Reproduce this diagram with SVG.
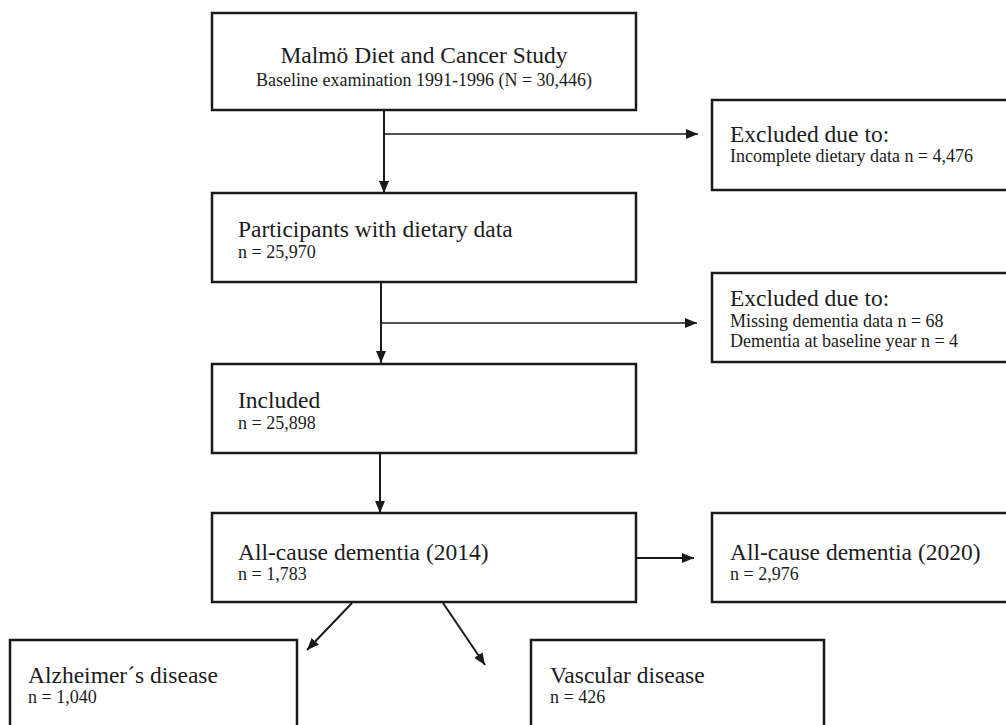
<svg xmlns="http://www.w3.org/2000/svg" width="1006" height="725" viewBox="0 0 1006 725">
  <defs>
    <marker id="arrow" markerUnits="userSpaceOnUse" markerWidth="12" markerHeight="10" refX="12" refY="5" orient="auto">
      <path d="M0,0 L12,5 L0,10 z" fill="#1a1a1a"/>
    </marker>
    <style>
      .box { fill: #ffffff; stroke: #1a1a1a; stroke-width: 2.5; }
      .t1 { font-family: "Liberation Serif", "Times New Roman", serif; font-size: 23.5px; fill: #1c1c1c; }
      .t2 { font-family: "Liberation Serif", "Times New Roman", serif; font-size: 18px; fill: #1c1c1c; }
      .main { stroke: #1a1a1a; stroke-width: 2; fill: none; marker-end: url(#arrow); }
      .branch { stroke: #1a1a1a; stroke-width: 1.4; fill: none; marker-end: url(#arrow); }
    </style>
  </defs>
  <rect width="1006" height="725" fill="#ffffff"/>

  <g id="connectors">
    <line class="main" x1="384" y1="110" x2="384" y2="193"/>
    <line class="branch" x1="384" y1="134" x2="698" y2="134"/>
    <line class="main" x1="381" y1="282" x2="381" y2="363"/>
    <line class="branch" x1="381" y1="323" x2="697" y2="323"/>
    <line class="main" x1="380" y1="453" x2="380" y2="513"/>
    <line class="main" x1="636" y1="558" x2="694" y2="558"/>
    <line class="main" x1="352" y1="603" x2="307" y2="650"/>
    <line class="main" x1="443" y1="603" x2="485" y2="665"/>
  </g>

  <g id="node-mdcs">
    <rect class="box" x="212" y="13" width="424" height="97"/>
    <text class="t1" x="424" y="63" text-anchor="middle">Malmö Diet and Cancer Study</text>
    <text class="t2" x="424" y="86" text-anchor="middle">Baseline examination 1991-1996 (N = 30,446)</text>
  </g>

  <g id="node-excluded1">
    <rect class="box" x="712" y="100" width="310" height="90"/>
    <text class="t1" x="730" y="142">Excluded due to:</text>
    <text class="t2" x="730" y="162">Incomplete dietary data n = 4,476</text>
  </g>

  <g id="node-participants">
    <rect class="box" x="212" y="193" width="424" height="89"/>
    <text class="t1" x="238" y="237">Participants with dietary data</text>
    <text class="t2" x="238" y="258">n = 25,970</text>
  </g>

  <g id="node-excluded2">
    <rect class="box" x="712" y="273" width="310" height="89"/>
    <text class="t1" x="730" y="306">Excluded due to:</text>
    <text class="t2" x="730" y="327">Missing dementia data n = 68</text>
    <text class="t2" x="730" y="347">Dementia at baseline year n = 4</text>
  </g>

  <g id="node-included">
    <rect class="box" x="212" y="364" width="424" height="89"/>
    <text class="t1" x="238" y="408">Included</text>
    <text class="t2" x="238" y="429">n = 25,898</text>
  </g>

  <g id="node-dementia2014">
    <rect class="box" x="212" y="513" width="424" height="89"/>
    <text class="t1" x="238" y="560">All-cause dementia (2014)</text>
    <text class="t2" x="238" y="580">n = 1,783</text>
  </g>

  <g id="node-dementia2020">
    <rect class="box" x="712" y="513" width="310" height="89"/>
    <text class="t1" x="730" y="560">All-cause dementia (2020)</text>
    <text class="t2" x="730" y="580">n = 2,976</text>
  </g>

  <g id="node-alzheimer">
    <rect class="box" x="10" y="640" width="287" height="100"/>
    <text class="t1" x="28" y="683">Alzheimer´s disease</text>
    <text class="t2" x="28" y="703">n = 1,040</text>
  </g>

  <g id="node-vascular">
    <rect class="box" x="531" y="640" width="293" height="100"/>
    <text class="t1" x="550" y="683">Vascular disease</text>
    <text class="t2" x="550" y="703">n = 426</text>
  </g>
</svg>
